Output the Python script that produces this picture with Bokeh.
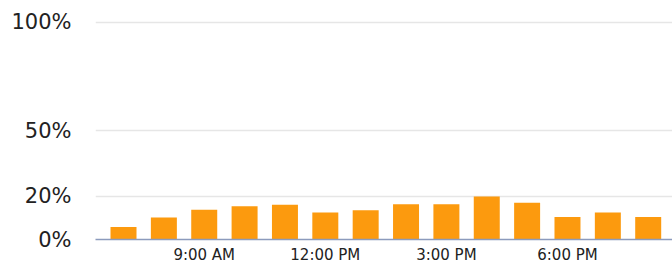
from bokeh.plotting import figure
from bokeh.models import FixedTicker, Range1d, ColumnDataSource
from bokeh.embed import file_html
from bokeh.resources import INLINE

# Data
hours = [7, 8, 9, 10, 11, 12, 13, 14, 15, 16, 17, 18, 19, 20]
values = [5.7, 10.1, 13.7, 15.3, 16.0, 12.4, 13.5, 16.2, 16.2, 19.8, 16.9, 10.4, 12.4, 10.4]
x_tick_hours = [9, 12, 15, 18]
x_tick_labels = ["9:00 AM", "12:00 PM", "3:00 PM", "6:00 PM"]
y_ticks = [0, 20, 50, 100]
y_tick_labels = ["0%", "20%", "50%", "100%"]

source = ColumnDataSource(data=dict(hour=hours, value=values))

p = figure(width=672, height=266, output_backend="svg", toolbar_location=None,
           x_range=Range1d(6.306, 20.602), y_range=Range1d(0, 101.66),
           min_border_left=95, min_border_right=0, min_border_top=18, min_border_bottom=27)

p.vbar(x="hour", top="value", width=0.644, bottom=0, source=source,
       fill_color="#fc9a0e", line_color=None)

p.outline_line_color = None
p.background_fill_color = "white"
p.border_fill_color = "white"

p.xgrid.grid_line_color = None
p.ygrid.grid_line_color = "#e6e6e6"
p.ygrid.grid_line_width = 1.5
p.ygrid.ticker = FixedTicker(ticks=y_ticks)

p.yaxis.ticker = FixedTicker(ticks=y_ticks)
p.yaxis.major_label_overrides = {t: l for t, l in zip(y_ticks, y_tick_labels)}
p.yaxis.axis_line_color = None
p.yaxis.major_tick_line_color = None
p.yaxis.minor_tick_line_color = None
p.yaxis.major_tick_out = 0
p.yaxis.major_tick_in = 0
p.yaxis.major_label_standoff = 24
p.yaxis.major_label_text_font = "DejaVu Sans"
p.yaxis.major_label_text_font_size = "21px"
p.yaxis.major_label_text_color = "#222222"

p.xaxis.ticker = FixedTicker(ticks=x_tick_hours)
p.xaxis.major_label_overrides = {t: l for t, l in zip(x_tick_hours, x_tick_labels)}
p.xaxis.axis_line_color = "#8c9bbd"
p.xaxis.axis_line_width = 1.5
p.xaxis.major_tick_line_color = None
p.xaxis.minor_tick_line_color = None
p.xaxis.major_tick_out = 0
p.xaxis.major_tick_in = 0
p.xaxis.major_label_standoff = 6
p.xaxis.major_label_text_font = "DejaVu Sans"
p.xaxis.major_label_text_font_size = "15px"
p.xaxis.major_label_text_color = "#222222"

open("out.html", "w").write(file_html(p, INLINE))
